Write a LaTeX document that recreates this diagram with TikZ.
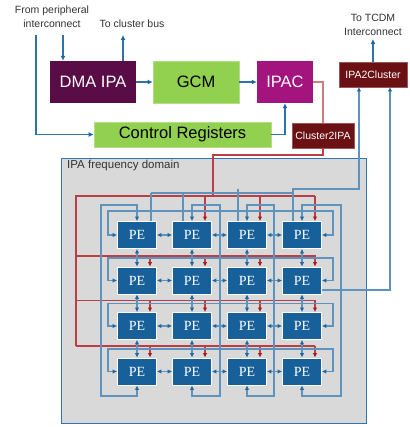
\documentclass[tikz,border=0pt]{standalone}
\usepackage{fontspec}
\setmainfont{Liberation Sans}
\newfontfamily\pefont{Liberation Serif}
\usetikzlibrary{arrows.meta}
\definecolor{dmac}{HTML}{5A0C47}
\definecolor{grnc}{HTML}{92D050}
\definecolor{ipacc}{HTML}{A3147F}
\definecolor{drc}{HTML}{6B1013}
\definecolor{pec}{HTML}{17609A}
\definecolor{blL}{HTML}{5E93BE}
\definecolor{blA}{HTML}{1F67A2}
\definecolor{blU}{HTML}{2E72AE}
\definecolor{rdL}{HTML}{BC3E45}
\definecolor{rdA}{HTML}{A51C24}
\definecolor{salm}{HTML}{CF7C7E}
\definecolor{domf}{HTML}{D9D9D9}
\definecolor{domb}{HTML}{2E75B6}
\definecolor{lblc}{HTML}{333333}
\tikzset{
  bigbox/.style={minimum height=42pt, inner sep=0pt, font=\fontsize{16.5}{18}\selectfont},
  dmabox/.style={bigbox, fill=dmac, text=white, minimum width=86pt},
  gcmbox/.style={bigbox, fill=grnc, draw=grnc!70!white, line width=0.6pt, text=black},
  ipacbox/.style={bigbox, fill=ipacc, text=white, minimum width=56pt},
  ctrlbox/.style={fill=grnc, draw=grnc!70!white, line width=0.6pt, text=black, minimum height=25pt, minimum width=177pt, inner sep=0pt, font=\fontsize{16.5}{18}\selectfont},
  drbox/.style={fill=drc, draw=drc!70!white, line width=0.6pt, text=white, minimum height=25pt, inner sep=0pt, font=\fontsize{10.5}{12}\selectfont},
  lbl/.style={align=center, text=lblc, font=\fontsize{10.5}{14}\selectfont, inner sep=0pt},
  pebox/.style={fill=pec, draw=white, line width=0.8pt, text=white, minimum width=39pt, minimum height=27pt, inner sep=0pt, font=\pefont\fontsize{14}{14}\selectfont},
  upA/.style={draw=blU, line width=1.2pt, -{Latex[length=5pt,width=5pt,color=blA]}},
  bL/.style={draw=blL, line width=1.1pt},
  bA/.style={bL, -{Latex[length=4.5pt,width=4.5pt,color=blA]}},
  bB/.style={bL, {Latex[length=4.5pt,width=4.5pt,color=blA]}-{Latex[length=4.5pt,width=4.5pt,color=blA]}},
  rL/.style={draw=rdL, line width=1.1pt},
  rA/.style={rL, -{Latex[length=4.5pt,width=4.5pt,color=rdA]}},
}
\begin{document}
\begin{tikzpicture}[x=1pt,y=-1pt]
\useasboundingbox (0,0) rectangle (409,427);
% upper blocks
\node[dmabox] (dma) at (93,82) {DMA IPA};
\node[gcmbox, minimum width=86pt] (gcm) at (196,82) {GCM};
\node[ipacbox] (ipac) at (285,82) {IPAC};
\node[ctrlbox] (ctrl) at (182.5,134.5) {Control Registers};
\node[drbox, minimum width=62pt] (c2i) at (323,135.5) {Cluster2IPA};
\node[drbox, minimum width=68pt] (i2c) at (373,74.5) {IPA2Cluster};
% labels
\node[lbl] (lfrom) at (52,17) {From peripheral\\interconnect};
\node[lbl] (lbus) at (132,24) {To cluster bus};
\node[lbl] (ltcdm) at (373,24.5) {To TCDM\\Interconnect};
\coordinate (fromA) at (36,35);
\coordinate (fromB) at (63,35);
\coordinate (busend) at (123,35);
\coordinate (tcdm) at (373,39);
% domain box
\node[fill=domf, draw=domb, line width=1pt, minimum width=304.5pt, minimum height=264pt, inner sep=0pt] (dom) at (213.75,291) {};
\node[anchor=west, text=lblc, font=\fontsize{11.5}{12}\selectfont, inner sep=0pt] (domlbl) at (67,166) {IPA frequency domain};
% PE grid
\foreach \r/\cy in {1/235,2/280.5,3/326,4/371.5}{
  \foreach \c/\cx in {1/137,2/192,3/247,4/302}{
    \node[pebox] (p\r\c) at (\cx,\cy) {PE};
  }
}
% upper connectors
\draw[upA] (fromA) |- (ctrl.west);
\draw[upA] (fromB) -- (fromB |- dma.north);
\draw[upA] (busend |- dma.north) -- (busend);
\draw[upA] (dma) -- (gcm);
\draw[upA] (gcm) -- (ipac);
\draw[upA] (ctrl.east) -| (ipac.south);
\draw[upA] (i2c.north) -- (tcdm);
\draw[draw=salm, line width=1.3pt] (ipac.east) -| (c2i.north);
% red tree
\draw[rL] (c2i.south) -- (323,155) -| (213,196);
\draw[rL] (76,346) -- (76,196) -- (315,196);
\foreach \y in {256,300.5,346}{ \draw[rL] (76,\y) -- (315,\y); }
\foreach \c in {2,3,4}{ \draw[rA] ([xshift=13pt,yshift=25.5pt]p1\c.north) -- ([xshift=13pt]p1\c.north); }
\foreach \r in {2,3,4}{
  \foreach \c in {1,2,3,4}{ \draw[rA] ([xshift=13pt,yshift=12pt]p\r\c.north) -- ([xshift=13pt]p\r\c.north); }
}
% output buses to IPA2Cluster
\draw[bL] (151,193) -- (293,193);
\draw[bL] ([xshift=14pt,yshift=28.5pt]p11.north) -- ([xshift=14pt]p11.north);
\draw[bL] ([xshift=-9pt,yshift=28.5pt]p12.north) -- ([xshift=-9pt]p12.north);
\draw[bL] ([xshift=-9pt,yshift=32.5pt]p13.north) -- ([xshift=-9pt]p13.north);
\draw[bA] ([xshift=-9pt]p14.north) -- (293,189) -| (359,87);
\draw[bA] ([yshift=-9.5pt]p24.east) -| (390,87);
% neighbour links
\foreach \r in {1,2,3,4}{
  \draw[bB] (p\r1) -- (p\r2);
  \draw[bB] (p\r2) -- (p\r3);
  \draw[bB] (p\r3) -- (p\r4);
}
\foreach \c in {1,2,3,4}{
  \draw[bB] (p1\c) -- (p2\c);
  \draw[bB] (p2\c) -- (p3\c);
  \draw[bB] (p3\c) -- (p4\c);
}
% horizontal wrap-arounds
\draw[bB] (p11.west) -- (108,235) |- (333,211) |- (p14.east);
\draw[bB] (p21.west) -- (108,280.5) |- (333,258) |- (p24.east);
\draw[bB] (p31.west) -- (108,326) |- (333,303.5) |- (p34.east);
\draw[bB] (p41.west) -- (108,371.5) |- (333,349) |- (p44.east);
% vertical wrap-arounds
\draw[bB] (p41.south) |- (101,396) |- (137,205) -- (p11.north);
\draw[bB] (p42.south) |- (220,396) |- (192,205) -- (p12.north);
\draw[bB] (p43.south) |- (274,396) |- (247,205) -- (p13.north);
\draw[bB] (p44.south) |- (341,396) |- (302,205) -- (p14.north);
\end{tikzpicture}
\end{document}
